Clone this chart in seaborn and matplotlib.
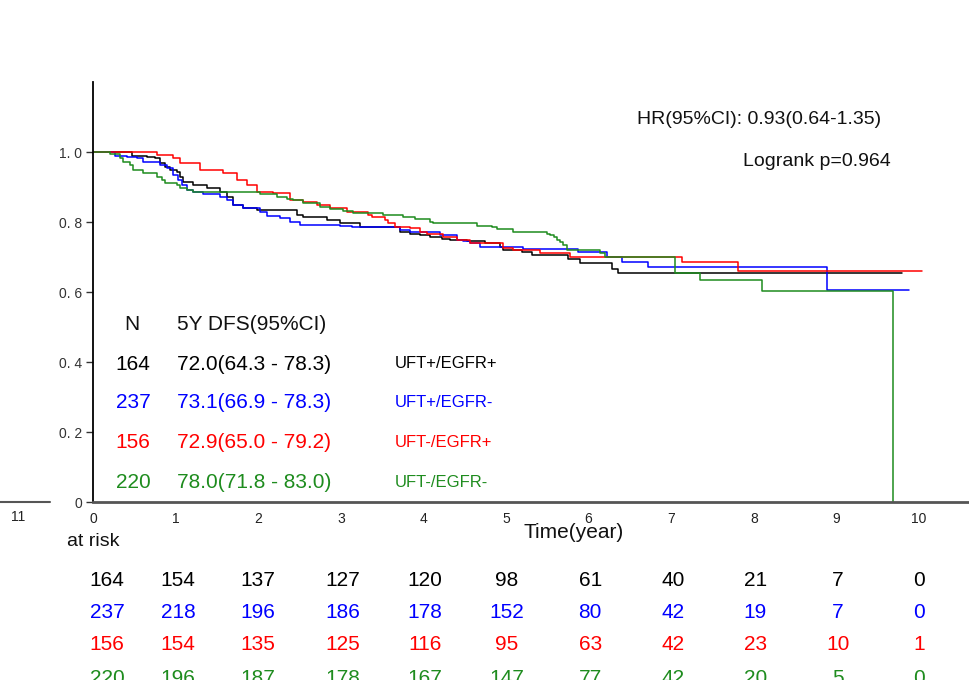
import numpy as np
import pandas as pd
import matplotlib
matplotlib.use("Agg")
import matplotlib.pyplot as plt
from matplotlib.lines import Line2D
import seaborn as sns

# ---------------- data ----------------
groups = ["UFT+/EGFR+", "UFT+/EGFR-", "UFT-/EGFR+", "UFT-/EGFR-"]
colors = ["#000000", "#0000FF", "#FF0000", "#1E8C1E"]

t_black = [0, 0.47, 0.65, 0.75, 0.81, 0.87, 0.93, 1.02, 1.05, 1.09, 1.21, 1.38, 1.54, 1.62, 1.69,
           1.82, 1.99, 2.47, 2.54, 2.83, 2.99, 3.23, 3.72, 3.84, 3.96, 4.08, 4.23, 4.32, 4.53,
           4.75, 4.93, 4.96, 5.19, 5.31, 5.75, 5.90, 6.28, 6.36, 9.80]
s_black = [1.0, 0.99, 0.986, 0.983, 0.969, 0.958, 0.95, 0.943, 0.929, 0.914, 0.905, 0.897, 0.886,
           0.871, 0.849, 0.84, 0.834, 0.82, 0.815, 0.806, 0.797, 0.786, 0.771, 0.767, 0.763,
           0.757, 0.752, 0.749, 0.746, 0.74, 0.729, 0.72, 0.714, 0.706, 0.694, 0.683, 0.666,
           0.654, 0.654]

t_blue = [0, 0.27, 0.41, 0.53, 0.61, 0.81, 0.90, 0.97, 1.03, 1.08, 1.14, 1.21, 1.33, 1.54, 1.62,
          1.69, 1.82, 2.02, 2.11, 2.26, 2.38, 2.51, 2.99, 3.14, 3.72, 3.84, 4.20, 4.41, 4.48,
          4.56, 4.69, 5.21, 5.87, 6.22, 6.40, 6.72, 8.89, 9.88]
s_blue = [1.0, 0.99, 0.986, 0.983, 0.971, 0.963, 0.954, 0.934, 0.92, 0.906, 0.891, 0.886, 0.881,
          0.871, 0.863, 0.849, 0.84, 0.829, 0.817, 0.811, 0.80, 0.791, 0.789, 0.786, 0.777,
          0.771, 0.763, 0.749, 0.746, 0.74, 0.729, 0.723, 0.714, 0.70, 0.686, 0.671, 0.606,
          0.606]

t_red = [0, 0.77, 0.97, 1.05, 1.30, 1.57, 1.74, 1.86, 1.99, 2.18, 2.38, 2.54, 2.71, 2.87, 3.07,
         3.33, 3.38, 3.54, 3.57, 3.66, 3.84, 3.96, 4.04, 4.24, 4.41, 4.56, 4.96, 5.08, 5.41,
         5.77, 7.13, 7.81, 10.04]
s_red = [1.0, 0.991, 0.983, 0.969, 0.949, 0.94, 0.92, 0.906, 0.886, 0.883, 0.863, 0.858, 0.849,
         0.84, 0.829, 0.82, 0.815, 0.806, 0.796, 0.786, 0.782, 0.771, 0.767, 0.757, 0.749,
         0.74, 0.726, 0.72, 0.711, 0.70, 0.686, 0.66, 0.66]

t_green = [0, 0.21, 0.33, 0.36, 0.45, 0.48, 0.61, 0.77, 0.84, 0.87, 1.02, 1.05, 1.14, 1.21,
           2.02, 2.23, 2.35, 2.42, 2.54, 2.75, 2.87, 3.03, 3.15, 3.51, 3.75, 3.90, 4.08, 4.12,
           4.65, 4.83, 4.89, 5.08, 5.50, 5.53, 5.58, 5.62, 5.65, 5.69, 5.74, 6.14, 6.20, 7.05,
           7.35, 8.10, 9.69, 9.69]
s_green = [1.0, 0.994, 0.983, 0.971, 0.963, 0.949, 0.94, 0.929, 0.92, 0.911, 0.906, 0.897, 0.891,
           0.886, 0.88, 0.871, 0.866, 0.863, 0.854, 0.843, 0.837, 0.831, 0.826, 0.82, 0.814,
           0.809, 0.80, 0.797, 0.789, 0.786, 0.78, 0.771, 0.766, 0.763, 0.757, 0.749, 0.743,
           0.734, 0.72, 0.711, 0.70, 0.654, 0.634, 0.603, 0.603, 0.0]

n_total = ["164", "237", "156", "220"]
dfs5 = ["72.0(64.3 - 78.3)", "73.1(66.9 - 78.3)", "72.9(65.0 - 79.2)", "78.0(71.8 - 83.0)"]

risk_times = [0, 1, 2, 3, 4, 5, 6, 7, 8, 9, 10]
risk_black = [164, 154, 137, 127, 120, 98, 61, 40, 21, 7, 0]
risk_blue = [237, 218, 196, 186, 178, 152, 80, 42, 19, 7, 0]
risk_red = [156, 154, 135, 125, 116, 95, 63, 42, 23, 10, 1]
risk_green = [220, 196, 187, 178, 167, 147, 77, 42, 20, 5, 0]

hr_text = "HR(95%CI): 0.93(0.64-1.35)"
p_text = "Logrank p=0.964"

# ---------------- build ----------------
sns.set_style("white")
plt.rcParams["font.family"] = ["Liberation Sans", "DejaVu Sans"]

frames = []
for g, t, s in zip(groups, [t_black, t_blue, t_red, t_green], [s_black, s_blue, s_red, s_green]):
    frames.append(pd.DataFrame({"time": t, "surv": s, "group": g}))
df = pd.concat(frames, ignore_index=True)

W, H = 969, 680
fig = plt.figure(figsize=(W / 100, H / 100), dpi=100)
ax_left, ax_right, ax_bottom, ax_top = 93, 969, 502, 82
ax = fig.add_axes([ax_left / W, 1 - ax_bottom / H, (ax_right - ax_left) / W, (ax_bottom - ax_top) / H])

sns.lineplot(data=df, x="time", y="surv", hue="group", hue_order=groups, palette=colors,
             drawstyle="steps-post", estimator=None, sort=False, units="group",
             linewidth=1.1, legend=False, ax=ax)

px_per_year = 82.6
ax.set_xlim(0, (ax_right - ax_left) / px_per_year)
ax.set_ylim(0, (ax_bottom - ax_top) / 350)
ax.set_xlabel("")
ax.set_ylabel("")

ax.set_xticks(risk_times)
ax.set_xticklabels([str(v) for v in risk_times], fontsize=10, color="#222222")
ax.set_yticks([0, 0.2, 0.4, 0.6, 0.8, 1.0])
ax.set_yticklabels(["0", "0. 2", "0. 4", "0. 6", "0. 8", "1. 0"], fontsize=10, color="#333333")
ax.tick_params(axis="x", length=0, pad=7)
ax.tick_params(axis="y", length=5, width=1, color="#333333", direction="out", pad=3, left=True)

for side in ["top", "right"]:
    ax.spines[side].set_visible(False)
ax.spines["left"].set_color("#000000")
ax.spines["left"].set_linewidth(1.3)
ax.spines["bottom"].set_color("#555555")
ax.spines["bottom"].set_linewidth(2.0)

def ypx(p):
    return (ax_bottom - p) / 350.0

def xpx(p):
    return (p - ax_left) / px_per_year

# annotations
ax.text(xpx(637), ypx(118), hr_text, fontsize=14, ha="left", va="center_baseline", color="#111111", clip_on=False)
ax.text(xpx(743), ypx(160), p_text, fontsize=14, ha="left", va="center_baseline", color="#111111", clip_on=False)

# table inside plot
ax.text(xpx(132), ypx(322), "N", fontsize=15, ha="center", va="center_baseline", color="#111111")
ax.text(xpx(177), ypx(322), "5Y DFS(95%CI)", fontsize=15, ha="left", va="center_baseline", color="#111111")
row_y = [362, 401, 441, 481]
for i in range(4):
    ax.text(xpx(133), ypx(row_y[i]), n_total[i], fontsize=15, ha="center", va="center_baseline", color=colors[i])
    ax.text(xpx(177), ypx(row_y[i]), dfs5[i], fontsize=15, ha="left", va="center_baseline", color=colors[i])
    ax.text(xpx(395), ypx(row_y[i]), groups[i], fontsize=12, ha="left", va="center_baseline", color=colors[i])

# axis title
ax.text(xpx(574), ypx(530), "Time(year)", fontsize=15, ha="center", va="center_baseline", color="#111111", clip_on=False)
ax.text(xpx(93), ypx(540), "at risk", fontsize=14, ha="center", va="center_baseline", color="#111111", clip_on=False)

# at risk table
risk_x = [0.17, 1.03, 2.0, 3.02, 4.02, 5.01, 6.02, 7.02, 8.02, 9.02, 10.0]
risk_rows = [risk_black, risk_blue, risk_red, risk_green]
risk_y = [579, 611, 643, 676]
for r, row in enumerate(risk_rows):
    for xi, v in zip(risk_x, row):
        ax.text(xi, ypx(risk_y[r]), str(v), fontsize=15, ha="center", va="center_baseline",
                color=colors[r], clip_on=False)

# stray axis fragment at far left
fig.add_artist(Line2D([0 / W, 50 / W], [1 - 502 / H, 1 - 502 / H], color="#555555", linewidth=1.5))
fig.text(18 / W, 1 - 517 / H, "11", fontsize=10, ha="center", va="center", color="#222222")

fig.savefig("out.png", dpi=100)
